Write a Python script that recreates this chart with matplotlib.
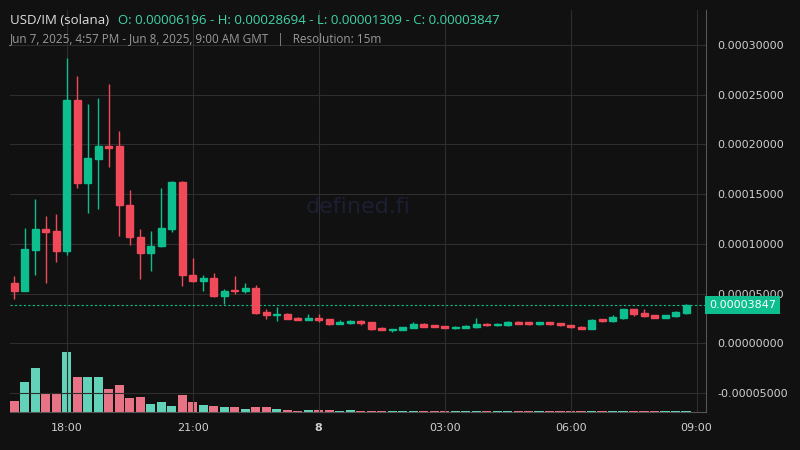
import numpy as np
import matplotlib.pyplot as plt
from matplotlib.patches import Rectangle

# 15 minute candles from 16:45 to 08:45, values in units of 1e-5
opens = [6.1, 5.3, 9.4, 11.5, 11.3, 9.3, 24.5, 16.1, 18.5, 19.8, 19.8, 13.9, 10.7, 9.1, 9.8, 11.5,
         16.2, 6.9, 6.3, 6.6, 4.7, 5.35, 5.25, 5.6, 3.1, 2.9, 2.9, 2.5, 2.35, 2.5, 2.4, 1.95,
         2.0, 2.2, 2.1, 1.5, 1.35, 1.35, 1.55, 1.9, 1.75, 1.7, 1.55, 1.55, 1.65, 1.95, 1.8, 1.8,
         2.1, 2.1, 1.9, 2.1, 2.0, 1.8, 1.65, 1.45, 2.4, 2.2, 2.5, 3.4, 3.0, 2.8, 2.55, 2.7, 3.0]
closes = [5.3, 9.46, 11.5, 11.2, 9.3, 24.5, 16.1, 18.6, 19.8, 19.7, 13.9, 10.7, 9.1, 9.8, 11.6, 16.2,
          6.9, 6.3, 6.6, 4.7, 5.3, 5.3, 5.6, 3.05, 2.85, 2.9, 2.45, 2.35, 2.5, 2.35, 1.95, 2.15,
          2.2, 2.0, 1.4, 1.35, 1.4, 1.6, 1.9, 1.65, 1.7, 1.55, 1.65, 1.7, 1.9, 1.8, 1.95, 2.1,
          2.0, 1.9, 2.1, 1.9, 1.8, 1.6, 1.45, 2.35, 2.2, 2.6, 3.4, 2.9, 2.7, 2.55, 2.8, 3.1, 3.847]
highs = [6.75, 11.6, 14.5, 12.8, 13.0, 28.7, 26.9, 24.1, 24.7, 26.1, 21.3, 15.4, 11.5, 11.3, 15.6, 16.3,
         16.3, 8.6, 6.9, 7.1, 5.5, 6.8, 6.1, 5.9, 3.4, 3.6, 3.0, 2.6, 2.9, 2.9, 2.45, 2.3,
         2.3, 2.35, 2.15, 1.6, 1.45, 1.65, 2.1, 2.0, 1.8, 1.75, 1.7, 1.8, 2.5, 2.05, 2.0, 2.25,
         2.2, 2.15, 2.15, 2.15, 2.05, 1.85, 1.7, 2.4, 2.45, 2.8, 3.45, 3.45, 3.4, 2.85, 2.85, 3.2, 3.9]
lows = [4.46, 5.27, 6.9, 6.1, 8.2, 8.9, 15.6, 13.1, 13.5, 17.7, 10.8, 9.9, 6.5, 7.3, 9.7, 11.2,
        5.8, 6.2, 5.3, 4.6, 3.9, 4.95, 5.1, 2.95, 2.45, 2.25, 2.4, 2.3, 2.3, 2.1, 1.8, 1.9,
        1.95, 1.85, 1.35, 1.3, 1.15, 1.3, 1.5, 1.6, 1.6, 1.5, 1.45, 1.5, 1.55, 1.7, 1.75, 1.75,
        1.95, 1.85, 1.85, 1.85, 1.75, 1.55, 1.4, 1.45, 2.15, 2.15, 2.45, 2.7, 2.65, 2.5, 2.5, 2.6, 2.9]
volumes = [32, 89, 131, 56, 56, 179, 104, 104, 104, 68, 80, 41, 44, 23, 29, 17,
           50, 29, 20, 17, 14, 14, 8, 14, 14, 8, 5, 2, 5, 7, 5, 3,
           5, 3, 3, 2, 2, 3, 4, 3, 2, 2, 3, 2, 3, 2, 2, 3,
           2, 2, 2, 2, 2, 2, 2, 3, 2, 3, 4, 3, 3, 2, 2, 3, 4]
tick_pos = [5, 17, 29, 41, 53, 65]
tick_labels = ["18:00", "21:00", "8", "03:00", "06:00", "09:00"]
price_ticks = [-0.00005, 0.0, 0.00005, 0.0001, 0.00015, 0.0002, 0.00025, 0.0003]

BG = "#111111"
GREEN = "#0dbf8f"
RED = "#f04a5a"
GRID = "#2e2e2e"

fig = plt.figure(figsize=(8, 4.5), dpi=100, facecolor=BG)
ax = fig.add_axes([10 / 800, 1 - 412 / 450, 696 / 800, 402 / 450])
ax.set_facecolor(BG)

# volume on its own hidden axis
axv = ax.twinx()
axv.set_ylim(0, 179 * 401 / 59.7 / 3 * 3)
for i, v in enumerate(volumes):
    c = "#62d3b8" if closes[i] >= opens[i] else "#e87386"
    axv.bar(i, v, width=0.88, color=c, zorder=1)
axv.axis("off")
ax.set_zorder(axv.get_zorder() + 1)
ax.patch.set_visible(False)
fig.patch.set_facecolor(BG)

for i in range(len(opens)):
    o, c, h, l = [v * 1e-5 for v in (opens[i], closes[i], highs[i], lows[i])]
    col = GREEN if c >= o else RED
    ax.vlines(i, l, h, color=col, lw=1, zorder=3)
    bot, top = min(o, c), max(o, c)
    if top - bot < 0.15e-5:
        bot, top = (bot + top) / 2 - 0.07e-5, (bot + top) / 2 + 0.07e-5
    ax.add_patch(Rectangle((i - 0.33, bot), 0.66, top - bot, color=col, zorder=4))

last = closes[-1] * 1e-5
ax.axhline(last, color=GREEN, lw=0.8, ls=(0, (2, 2)), zorder=2)

ax.set_xlim(-0.41, 65.9)
ax.set_ylim(-6.92e-5, 3.352e-4)
ax.set_xticks(tick_pos)
ax.set_xticklabels(tick_labels)
for t in ax.get_xticklabels():
    t.set_fontweight("bold" if t.get_text() == "8" else "normal")
ax.set_yticks(price_ticks)
ax.set_yticklabels([f"{p:.8f}" for p in price_ticks])
ax.yaxis.tick_right()
ax.tick_params(colors="#cfcfcf", labelsize=8, length=0, pad=8)
ax.grid(True, color=GRID, lw=0.8)
for s in ax.spines.values():
    s.set_visible(False)
ax.spines["right"].set_visible(True)
ax.spines["right"].set_color("#555555")
ax.spines["bottom"].set_visible(True)
ax.spines["bottom"].set_color("#555555")

ax.text(1.004, last, f"{last:.8f}", transform=ax.get_yaxis_transform(), fontsize=8,
        color="white", va="center", ha="left",
        bbox=dict(boxstyle="square,pad=0.35", fc=GREEN, ec="none"))

ax.text(0.5, 0.51, "defined.fi", transform=ax.transAxes, fontsize=16, color="#1c1f33",
        ha="center", va="center", zorder=0)

fig.text(10 / 800, 1 - 20 / 450, "USD/IM (solana)", color="#e0e0e0", fontsize=9.5,
         va="center", family="Open Sans")
fig.text(118 / 800, 1 - 20 / 450, "O: 0.00006196 - H: 0.00028694 - L: 0.00001309 - C: 0.00003847",
         color="#3fd5a8", fontsize=9.5, va="center", family="Open Sans")
fig.text(10 / 800, 1 - 40 / 450, "Jun 7, 2025, 4:57 PM - Jun 8, 2025, 9:00 AM GMT   |   Resolution: 15m",
         color="#9a9a9a", fontsize=8.5, va="center", family="Open Sans")

fig.savefig("out.png", dpi=100, facecolor=BG)
